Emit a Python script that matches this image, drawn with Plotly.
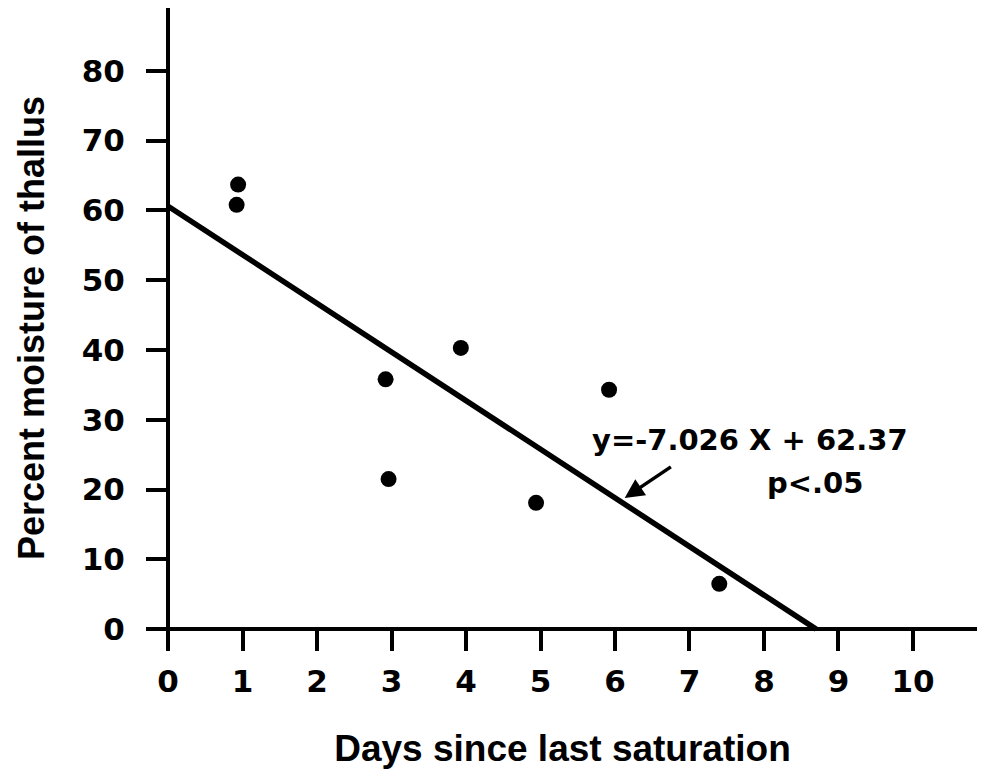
import plotly.graph_objects as go

# Observed data (days since last saturation, percent moisture of thallus)
days = [0.94, 0.92, 2.92, 2.96, 3.93, 4.94, 5.92, 7.40]
moisture = [63.7, 60.8, 35.8, 21.5, 40.3, 18.1, 34.3, 6.5]

# Regression line as drawn in the figure
line_x = [0.0, 8.70]
line_y = [60.6, 0.0]

x_ticks = [0, 1, 2, 3, 4, 5, 6, 7, 8, 9, 10]
y_ticks = [0, 10, 20, 30, 40, 50, 60, 70, 80]

equation_text = "y=-7.026 X + 62.37"
p_text = "p<.05"

tick_font = dict(family="DejaVu Sans", size=31, color="black", weight="bold")
x_title_font = dict(family="Liberation Sans", size=37, color="black", weight="bold")
y_title_font = dict(family="Liberation Sans", size=36, color="black", weight="bold")

fig = go.Figure()
fig.add_trace(go.Scatter(x=line_x, y=line_y, mode="lines",
                         line=dict(color="black", width=5.5), showlegend=False))
fig.add_trace(go.Scatter(x=days, y=moisture, mode="markers",
                         marker=dict(color="black", size=16), showlegend=False))

xr = [-0.27, 10.86]
yr = [-2.7, 89.0]

fig.update_layout(
    width=984, height=780,
    margin=dict(l=148, r=7, t=8, b=132),
    paper_bgcolor="white", plot_bgcolor="white",
    xaxis=dict(range=xr, tickvals=x_ticks, ticktext=[str(v) for v in x_ticks],
               showgrid=False, zeroline=False, showline=True, linecolor="black", linewidth=4,
               ticks="outside", ticklen=20, tickwidth=4, tickcolor="black",
               anchor="free", position=(0 - yr[0]) / (yr[1] - yr[0]),
               tickfont=tick_font, ticklabelstandoff=4,
               title=dict(text="Days since last saturation", font=x_title_font, standoff=36)),
    yaxis=dict(range=yr, tickvals=y_ticks, ticktext=[str(v) for v in y_ticks],
               showgrid=False, zeroline=False, showline=True, linecolor="black", linewidth=4,
               ticks="outside", ticklen=20, tickwidth=4, tickcolor="black",
               anchor="free", position=(0 - xr[0]) / (xr[1] - xr[0]),
               tickfont=tick_font, ticklabelstandoff=15,
               title=dict(text="Percent moisture of thallus", font=y_title_font, standoff=25)),
    annotations=[
        dict(x=5.66, y=27.1, xref="x", yref="y", text=equation_text, showarrow=False,
             xanchor="left", yanchor="middle",
             font=dict(family="DejaVu Sans", size=29, color="black", weight="bold")),
        dict(x=8.68, y=20.9, xref="x", yref="y", text=p_text, showarrow=False,
             xanchor="center", yanchor="middle",
             font=dict(family="DejaVu Sans", size=29, color="black", weight="bold")),
        dict(x=6.13, y=18.8, xref="x", yref="y", ax=6.77, ay=23.4, axref="x", ayref="y",
             text="", showarrow=True, arrowhead=2, arrowsize=1.1, arrowwidth=3.5, arrowcolor="black"),
    ],
)

fig.write_html("out.html")
